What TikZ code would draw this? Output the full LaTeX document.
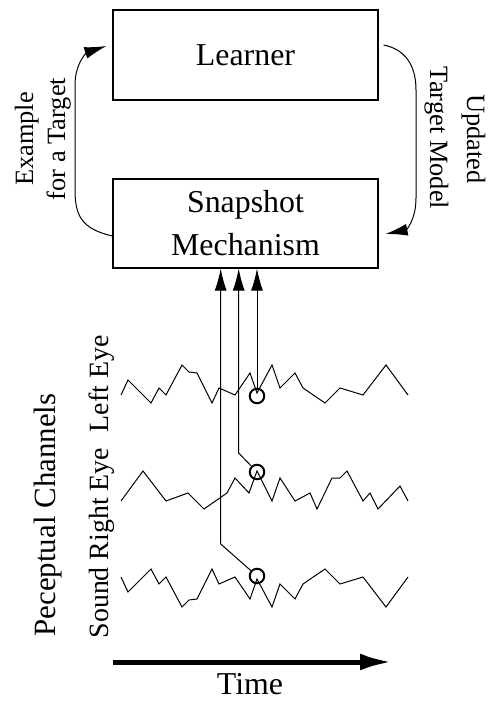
\documentclass[tikz,border=0pt]{standalone}
\usepackage{fontspec}
\setmainfont{Liberation Serif}
\usetikzlibrary{arrows.meta,calc}

\tikzset{
  box/.style={draw, line width=1.2bp, minimum width=265bp, minimum height=90bp,
    inner sep=0pt, align=center, font=\fontsize{32}{43}\selectfont},
  side/.style={inner sep=0pt, anchor=base, font=\fontsize{26.5}{32}\selectfont},
  wave/.style={line width=1bp},
  probe/.style={draw, circle, line width=2bp, minimum size=14.5bp, inner sep=0pt},
  feed/.style={line width=1bp, -{Latex[length=22bp,width=12bp]}},
}

% offsets of the channel signals from their resting level
\newcommand{\eyewave}{128/-15,151/8,159/-7,166/0,182/-30,189/-23,197/-22,212/8,219/-7,
  235/0,250/-22,257/-2,272/-30,280/-7,295/-22,303/-7,325/8,340/-7,363/0,386/-30,408/0}
\newcommand{\rightwave}{143/-30,166/0,188/-8,204/8,227/-8,235/-23,249/-8,257/-30,272/0,
  280/-23,295/0,310/-8,317/8,332/-23,340/-23,347/-30,363/0,370/-8,378/8,400/-15,408/0}

\begin{document}
\begin{tikzpicture}[x=1bp, y=-1bp]
    \useasboundingbox (0,0) rectangle (488,702);

    \node[box] (learner) at (245.5,55) {Learner};
    \node[box, minimum height=89bp] (snap) at (245.5,223.5) {Snapshot\\Mechanism};

    % loop between the two boxes
    \draw[feed] ($(snap.west)+(0,12.5)$) .. controls (82,229) and (75,216) .. (75,190)
      -- (75,85) .. controls (75,62) and (88,52) .. ($(learner.west)+(-6,-9)$);
    \draw[feed] ($(learner.east)+(5,-10)$) .. controls (404,49) and (416,64) .. (416,90)
      -- (416,198) .. controls (416,220) and (406,230) .. ($(snap.east)+(7,10.5)$);

    \node[side, rotate=90] (example) at (33,139) {Example};
    \node[side, rotate=90] (forTarget) at (65,139) {for a Target};
    \node[side, rotate=-90] (updated) at (467,139) {Updated};
    \node[side, rotate=-90] (model) at (430,138) {Target Model};

    % the three channels
    \draw[wave] (121,395) \foreach \x/\y in \eyewave {-- (\x,395+\y)};
    \draw[wave] (121,501) \foreach \x/\y in \rightwave {-- (\x,501+\y)};
    \draw[wave] (121,577) \foreach \x/\y in \eyewave {-- (\x,577-\y)};

    \node[probe] (pLeft) at (257,396) {};
    \node[probe] (pRight) at (257,472) {};
    \node[probe] (pSound) at (257,576) {};

    \coordinate (kRight) at (238.7,453);
    \coordinate (kSound) at (220.7,544);
    \draw[feed] (pLeft) -- (pLeft |- snap.south);
    \draw[feed] (pRight) -- (kRight) -- (kRight |- snap.south);
    \draw[feed] (pSound) -- (kSound) -- (kSound |- snap.south);

    \node[side, rotate=90, font=\fontsize{31}{36}\selectfont] (channels) at (55,515) {Peceptual Channels};
    \node[side, rotate=90, font=\fontsize{28}{34}\selectfont] (names) at (108,487)
      {Sound Right Eye\hspace{0.55em}Left Eye};

    % time axis
    \coordinate (t0) at (113,662);
    \coordinate (t1) at (392,662);
    \draw[line width=5bp, -{Latex[length=32bp,width=17bp]}] (t0) -- (t1);
    \node[anchor=base, inner sep=0pt, font=\fontsize{32}{38}\selectfont] (time) at (250,694) {Time};
\end{tikzpicture}
\end{document}
